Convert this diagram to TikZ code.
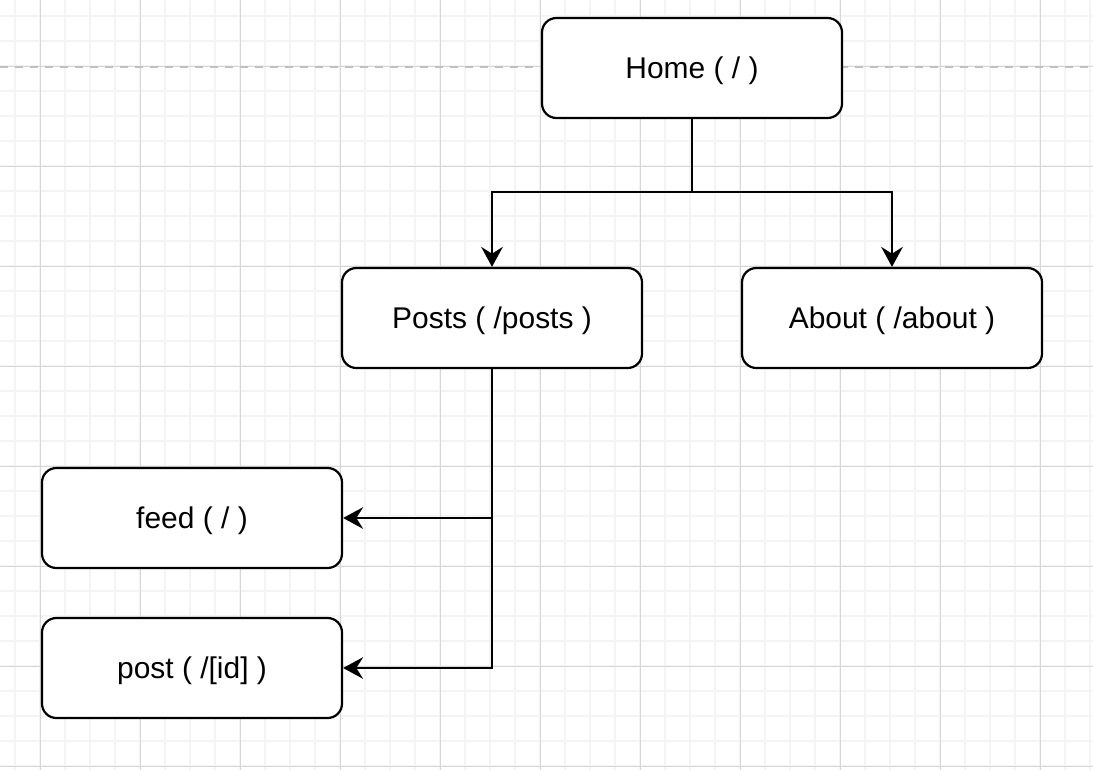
\documentclass[tikz,border=0pt]{standalone}
\usepackage{fontspec}
\setmainfont{Liberation Sans}
\usepackage{xcolor}
\usetikzlibrary{arrows.meta}
\definecolor{gridminor}{HTML}{F4F4F4}
\definecolor{gridmajor}{HTML}{D6D6D6}
\definecolor{guide}{HTML}{C0C0C0}

\begin{document}
\begin{tikzpicture}[x=0.25mm,y=-0.25mm,
    page/.style={draw,rounded corners=3.6mm,line width=0.55mm,fill=white,
      minimum width=75mm,minimum height=25mm,inner sep=0pt,
      text height=15.25pt,text depth=0pt,
      font=\fontsize{21.3pt}{24pt}\selectfont},
    link/.style={-{Stealth[length=5mm,width=5.4mm,inset=1.7mm]},line width=0.55mm}]
    \useasboundingbox (0,0) rectangle (1093,770);

    % background grid
    \foreach \x in {15,40,...,1090} \draw[gridminor,line width=0.35mm] (\x,0)--(\x,770);
    \foreach \y in {16,41,...,770} \draw[gridminor,line width=0.35mm] (0,\y)--(1093,\y);
    \foreach \x in {40,140,...,1040} \draw[gridmajor,line width=0.25mm] (\x,0)--(\x,770);
    \foreach \y in {66,166,...,766} \draw[gridmajor,line width=0.25mm] (0,\y)--(1093,\y);
    \draw[guide,line width=0.6mm,dash pattern=on 2mm off 1.75mm] (0,67)--(1093,67);

    \node[page] (home) at (692,68) {Home ( / )};
    \node[page] (posts) at (492,318) {Posts ( /posts )};
    \node[page] (about) at (892,318) {About ( /about )};
    \node[page] (feed) at (192,518) {feed ( / )};
    \node[page] (post) at (192,668) {post ( /[id] )};

    \coordinate (split) at (692,192);
    \draw[line width=0.55mm] (home.south)--(split);
    \draw[link] (split) -| (posts.north);
    \draw[link] (split) -| (about.north);
    \draw[link] (posts.south) |- (feed.east);
    \draw[link] (posts.south) |- (post.east);
\end{tikzpicture}
\end{document}
